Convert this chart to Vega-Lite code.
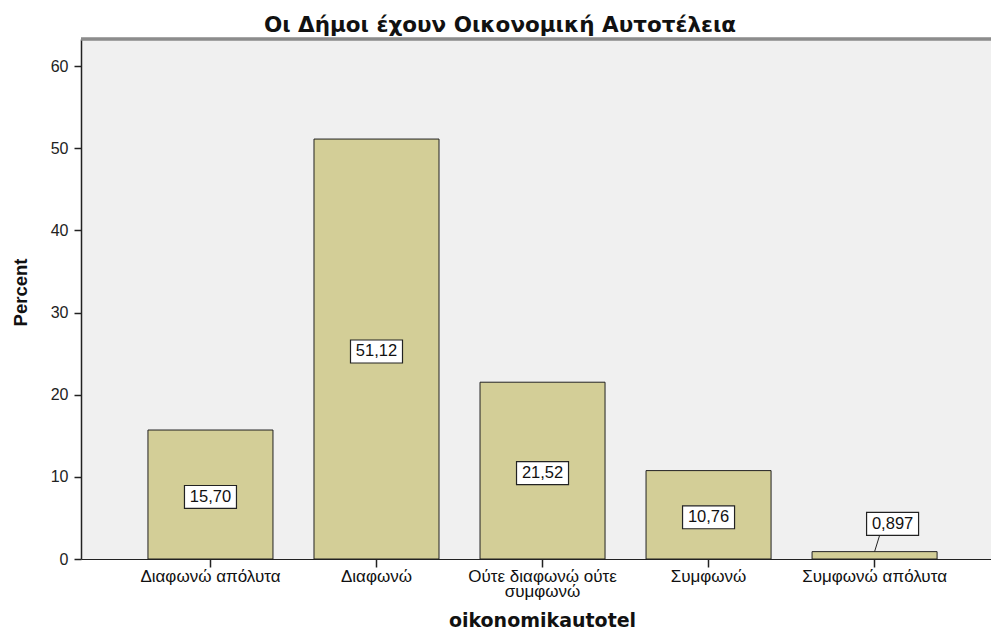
{
  "$schema": "https://vega.github.io/schema/vega-lite/v6.json",
  "width": 910,
  "height": 520,
  "autosize": {"type": "none"},
  "padding": {"left": 81, "top": 39, "right": 0, "bottom": 71},
  "background": "white",
  "config": {
    "view": {"fill": "#f0f0f0", "stroke": null},
    "font": "Liberation Sans"
  },
  "title": {
    "text": "Οι Δήμοι έχουν Οικονομική Αυτοτέλεια",
    "font": "DejaVu Sans",
    "fontSize": 21.5,
    "fontWeight": "bold",
    "color": "#111111",
    "anchor": "middle",
    "dx": -36,
    "dy": 23,
    "baseline": "alphabetic",
    "offset": 7
  },
  "data": {
    "values": [
      {"category": "Διαφωνώ απόλυτα", "value": 15.70, "label": "15,70"},
      {"category": "Διαφωνώ", "value": 51.12, "label": "51,12"},
      {"category": "Ούτε διαφωνώ ούτε συμφωνώ", "value": 21.52, "label": "21,52"},
      {"category": "Συμφωνώ", "value": 10.76, "label": "10,76"},
      {"category": "Συμφωνώ απόλυτα", "value": 0.897, "label": "0,897"}
    ]
  },
  "transform": [
    {"calculate": "datum.value > 3 ? datum.value / 2 - 0.3 : datum.value + 3.37", "as": "labelY"},
    {"calculate": "datum.labelY - 1.4", "as": "boxBottom"}
  ],
  "encoding": {
    "x": {
      "field": "category",
      "type": "nominal",
      "sort": null,
      "scale": {"paddingInner": 0.247, "paddingOuter": 0.364, "align": 0.554},
      "axis": {
        "title": "oikonomikautotel",
        "titleFont": "DejaVu Sans",
        "titleFontSize": 19,
        "titleFontWeight": "bold",
        "titleColor": "#111111",
        "titleX": 461,
        "titleY": 61,
        "titleBaseline": "middle",
        "labelAngle": 0,
        "labelFontSize": 17,
        "labelColor": "#111111",
        "labelPadding": 1,
        "labelLineHeight": 15,
        "labelLimit": 200,
        "labelExpr": "datum.label == 'Ούτε διαφωνώ ούτε συμφωνώ' ? ['Ούτε διαφωνώ ούτε', 'συμφωνώ'] : datum.label",
        "tickSize": 8,
        "tickColor": "#222222",
        "tickWidth": 1.5,
        "domainColor": "#222222",
        "domainWidth": 1.2
      }
    }
  },
  "layer": [
    {
      "mark": {"type": "bar", "fill": "#d3ce97", "stroke": "#222222", "strokeWidth": 1},
      "encoding": {
        "y": {
          "field": "value",
          "type": "quantitative",
          "scale": {"domain": [0, 63.3], "nice": false},
          "axis": {
            "title": "Percent",
            "titleFont": "Liberation Sans",
            "titleFontSize": 18.5,
            "titleFontWeight": "bold",
            "titleColor": "#111111",
            "titleX": -61,
            "titleY": 253,
            "titleAngle": -90,
            "titleAlign": "center",
            "titleBaseline": "middle",
            "values": [0, 10, 20, 30, 40, 50, 60],
            "grid": false,
            "labelFontSize": 16,
            "labelColor": "#222222",
            "labelPadding": 6,
            "tickSize": 7,
            "tickColor": "#222222",
            "tickWidth": 1.5,
            "domainColor": "#222222",
            "domainWidth": 1.5
          }
        }
      }
    },
    {
      "mark": {"type": "rule", "stroke": "#8c8c8c", "strokeWidth": 2.5},
      "encoding": {"y": {"datum": 63.3, "type": "quantitative"}, "x": null}
    },
    {
      "transform": [{"filter": "datum.value <= 3"}],
      "mark": {"type": "rule", "stroke": "#222222", "strokeWidth": 1, "x2Offset": 5},
      "encoding": {
        "y": {"field": "value", "type": "quantitative"},
        "y2": {"field": "boxBottom"},
        "x2": {"field": "category"}
      }
    },
    {
      "transform": [{"filter": "datum.value > 3"}],
      "mark": {"type": "point", "shape": "M-1,-0.442L1,-0.442L1,0.442L-1,0.442Z", "size": 2704, "filled": true, "fill": "white", "stroke": "#222222", "strokeWidth": 1.2, "opacity": 1},
      "encoding": {"y": {"field": "labelY", "type": "quantitative"}}
    },
    {
      "transform": [{"filter": "datum.value > 3"}],
      "mark": {"type": "text", "fontSize": 16.5, "color": "#111111", "baseline": "middle", "align": "center"},
      "encoding": {"y": {"field": "labelY", "type": "quantitative"}, "text": {"field": "label"}}
    },
    {
      "transform": [{"filter": "datum.value <= 3"}],
      "mark": {"type": "point", "shape": "M-1,-0.442L1,-0.442L1,0.442L-1,0.442Z", "size": 2704, "filled": true, "fill": "white", "stroke": "#222222", "strokeWidth": 1.2, "opacity": 1, "xOffset": 18},
      "encoding": {"y": {"field": "labelY", "type": "quantitative"}}
    },
    {
      "transform": [{"filter": "datum.value <= 3"}],
      "mark": {"type": "text", "fontSize": 16.5, "color": "#111111", "baseline": "middle", "align": "center", "xOffset": 18},
      "encoding": {"y": {"field": "labelY", "type": "quantitative"}, "text": {"field": "label"}}
    }
  ]
}
